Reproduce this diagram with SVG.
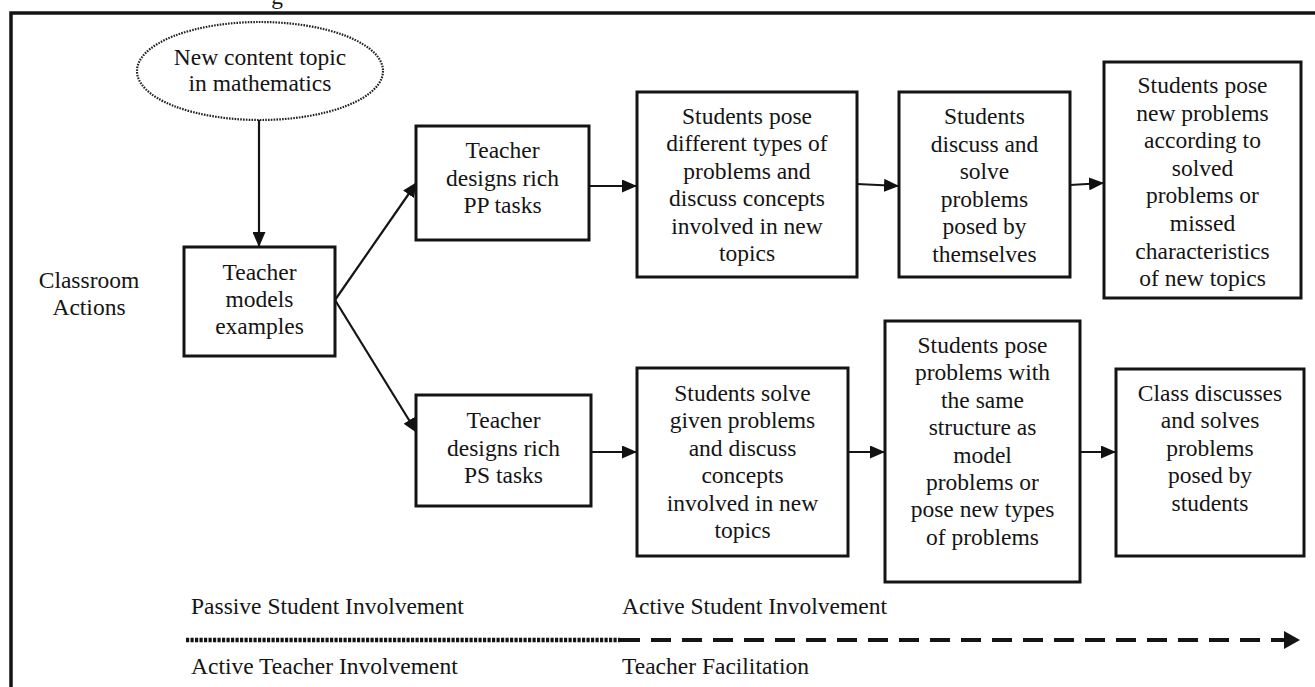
<svg xmlns="http://www.w3.org/2000/svg" width="1315" height="687" viewBox="0 0 1315 687">
<defs>
<marker id="arr" markerUnits="userSpaceOnUse" markerWidth="15" markerHeight="13" refX="15" refY="6.5" orient="auto">
<path d="M0,0 L15,6.5 L0,13 z" fill="#111"/>
</marker>
<style>
text{font-family:"Liberation Serif","Times New Roman",serif;font-size:23.5px;fill:#141414}
.c{text-anchor:middle}
.box{fill:#fff;stroke:#141414;stroke-width:3}
.con{stroke:#141414;stroke-width:2.2;fill:none;marker-end:url(#arr)}
</style>
</defs>
<rect width="1315" height="687" fill="#fff"/>
<text x="277" y="4" class="c">g</text>
<path d="M11,689 L11,13 L1317,13" fill="none" stroke="#141414" stroke-width="3.5"/>

<g id="connectors">
<line class="con" x1="259" y1="120" x2="259" y2="247"/>
<line class="con" x1="335" y1="300" x2="417" y2="182"/>
<line class="con" x1="335" y1="300" x2="417" y2="433"/>
<line class="con" x1="589" y1="186" x2="637" y2="186"/>
<line class="con" x1="857" y1="184" x2="899" y2="186"/>
<line class="con" x1="1070" y1="185" x2="1104" y2="183"/>
<line class="con" x1="588" y1="452" x2="637" y2="452"/>
<line class="con" x1="848" y1="452" x2="885" y2="452"/>
<line class="con" x1="1080" y1="452" x2="1116" y2="452"/>
</g>

<g id="topic">
<ellipse cx="260" cy="71" rx="123" ry="49" fill="#fff" stroke="#222" stroke-width="2.2" stroke-dasharray="1.6 1.2"/>
<text x="260" y="65" class="c">New content topic</text>
<text x="260" y="91" class="c">in mathematics</text>
</g>

<g id="classroom-actions">
<text x="89" y="288" class="c">Classroom</text>
<text x="89" y="315" class="c">Actions</text>
</g>

<g id="teacher-models">
<rect class="box" x="184" y="247" width="151" height="109"/>
<text x="259.5" y="280" class="c">Teacher</text>
<text x="259.5" y="307" class="c">models</text>
<text x="259.5" y="334" class="c">examples</text>
</g>

<g id="pp-tasks">
<rect class="box" x="416" y="126" width="173" height="114"/>
<text x="502.5" y="158" class="c">Teacher</text>
<text x="502.5" y="186" class="c">designs rich</text>
<text x="502.5" y="213" class="c">PP tasks</text>
</g>

<g id="pose-different">
<rect class="box" x="637" y="92" width="220" height="185"/>
<text x="747" y="123.5" class="c">Students pose</text>
<text x="747" y="151" class="c">different types of</text>
<text x="747" y="178.5" class="c">problems and</text>
<text x="747" y="206" class="c">discuss concepts</text>
<text x="747" y="233.5" class="c">involved in new</text>
<text x="747" y="261" class="c">topics</text>
</g>

<g id="discuss-solve">
<rect class="box" x="899" y="92" width="171" height="185"/>
<text x="984.5" y="124" class="c">Students</text>
<text x="984.5" y="151.5" class="c">discuss and</text>
<text x="984.5" y="179" class="c">solve</text>
<text x="984.5" y="206.5" class="c">problems</text>
<text x="984.5" y="234" class="c">posed by</text>
<text x="984.5" y="261.5" class="c">themselves</text>
</g>

<g id="pose-new">
<rect class="box" x="1104" y="62" width="197" height="236"/>
<text x="1202.5" y="93" class="c">Students pose</text>
<text x="1202.5" y="120.6" class="c">new problems</text>
<text x="1202.5" y="148.2" class="c">according to</text>
<text x="1202.5" y="175.8" class="c">solved</text>
<text x="1202.5" y="203.4" class="c">problems or</text>
<text x="1202.5" y="231" class="c">missed</text>
<text x="1202.5" y="258.6" class="c">characteristics</text>
<text x="1202.5" y="286.2" class="c">of new topics</text>
</g>

<g id="ps-tasks">
<rect class="box" x="416" y="395" width="175" height="111"/>
<text x="503.5" y="428" class="c">Teacher</text>
<text x="503.5" y="456" class="c">designs rich</text>
<text x="503.5" y="483" class="c">PS tasks</text>
</g>

<g id="solve-given">
<rect class="box" x="637" y="368" width="211" height="188"/>
<text x="742.5" y="401" class="c">Students solve</text>
<text x="742.5" y="428.4" class="c">given problems</text>
<text x="742.5" y="455.8" class="c">and discuss</text>
<text x="742.5" y="483.2" class="c">concepts</text>
<text x="742.5" y="510.6" class="c">involved in new</text>
<text x="742.5" y="538" class="c">topics</text>
</g>

<g id="pose-same">
<rect class="box" x="885" y="321" width="195" height="261"/>
<text x="982.5" y="353" class="c">Students pose</text>
<text x="982.5" y="380.4" class="c">problems with</text>
<text x="982.5" y="407.8" class="c">the same</text>
<text x="982.5" y="435.2" class="c">structure as</text>
<text x="982.5" y="462.6" class="c">model</text>
<text x="982.5" y="490" class="c">problems or</text>
<text x="982.5" y="517.4" class="c">pose new types</text>
<text x="982.5" y="544.8" class="c">of problems</text>
</g>

<g id="class-discusses">
<rect class="box" x="1116" y="369" width="188" height="187"/>
<text x="1210" y="401" class="c">Class discusses</text>
<text x="1210" y="428.4" class="c">and solves</text>
<text x="1210" y="455.8" class="c">problems</text>
<text x="1210" y="483.2" class="c">posed by</text>
<text x="1210" y="510.6" class="c">students</text>
</g>

<g id="involvement-scale">
<text x="191" y="614">Passive Student Involvement</text>
<text x="622" y="614">Active Student Involvement</text>
<text x="191" y="674">Active Teacher Involvement</text>
<text x="622" y="674">Teacher Facilitation</text>
<line x1="186" y1="640" x2="620" y2="640" stroke="#141414" stroke-width="4.5" stroke-dasharray="3.2 1.3"/>
<line x1="620" y1="640" x2="1284" y2="640" stroke="#141414" stroke-width="4" stroke-dasharray="20 11"/>
<path d="M1284,631 L1300,640 L1284,649 z" fill="#141414"/>
</g>
</svg>
